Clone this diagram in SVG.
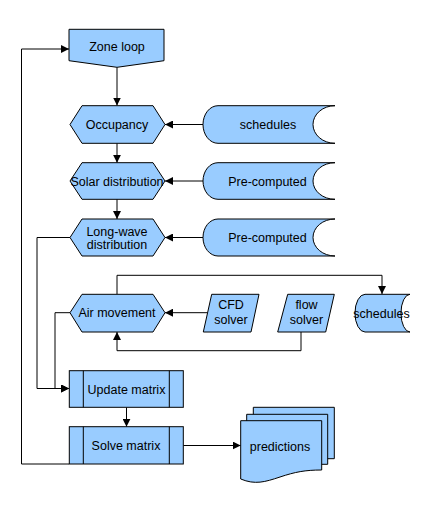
<svg xmlns="http://www.w3.org/2000/svg" width="446" height="509" viewBox="0 0 446 509">
<style>
.s{fill:#99ccff;stroke:#000;stroke-width:1}
.w{fill:#fff;stroke:#000;stroke-width:1}
.c{fill:none;stroke:#000;stroke-width:1}
text{font-family:"Liberation Sans",Arial,sans-serif;font-size:12.5px;fill:#000;text-anchor:middle}
</style>
<defs>
<marker id="a" markerUnits="userSpaceOnUse" markerWidth="9" markerHeight="8" refX="8" refY="4" orient="auto">
<path d="M0,0 L8,4 L0,8 z" fill="#000"/>
</marker>
</defs>
<rect width="446" height="509" fill="#fff"/>
<g id="connectors" class="c" marker-end="url(#a)">
<path d="M117,67.3 V105.5"/>
<path d="M117,143.3 V162.7"/>
<path d="M117,199.3 V219"/>
<path d="M203,124.5 H165"/>
<path d="M203,181 H165"/>
<path d="M203,237.5 H165"/>
<path d="M70,237.5 H37 V388.5 H69"/>
<path d="M70,312.7 H55 V388.5 H69"/>
<path d="M117,294.3 V275.3 H382 V294"/>
<path d="M207.6,312.7 H165"/>
<path d="M301,332 V350.7 H117 V332"/>
<path d="M126.5,407.3 V426.7"/>
<path d="M183.3,445.5 H240.7"/>
<path d="M69,464 H21.5 V49 H69"/>
</g>
<g id="zone-loop">
<path class="s" d="M69,29.3 H164 V60.7 L117,67.3 L69,60.7 z"/>
<text x="117" y="50.5">Zone loop</text>
</g>
<g id="occupancy">
<path class="s" d="M70,124.5 L82,105.7 H153 L165,124.5 L153,143.3 H82 z"/>
<text x="117" y="129">Occupancy</text>
</g>
<g id="solar">
<path class="s" d="M70,181 L82,162.7 H153 L165,181 L153,199.3 H82 z"/>
<text x="117" y="185.5">Solar distribution</text>
</g>
<g id="longwave">
<path class="s" d="M70,237.5 L82,219 H153 L165,237.5 L153,256 H82 z"/>
<text x="117" y="235.5">Long-wave</text>
<text x="117" y="249">distribution</text>
</g>
<g id="air-movement">
<path class="s" d="M70,312.7 L82,294.3 H153 L165,312.7 L153,332 H82 z"/>
<text x="117" y="317.2">Air movement</text>
</g>
<g id="schedules1">
<path class="s" d="M218,105.7 H335 A22,18.8 0 0 0 335,143.3 H218 A15,18.8 0 0 1 218,105.7 z"/>
<text x="268" y="129">schedules</text>
</g>
<g id="precomputed1">
<path class="s" d="M218,162.7 H335 A22,18.3 0 0 0 335,199.3 H218 A15,18.3 0 0 1 218,162.7 z"/>
<text x="267.5" y="185.5">Pre-computed</text>
</g>
<g id="precomputed2">
<path class="s" d="M218,219 H335 A22,18.5 0 0 0 335,256 H218 A15,18.5 0 0 1 218,219 z"/>
<text x="267.5" y="242">Pre-computed</text>
</g>
<g id="cfd-solver">
<path class="s" d="M211.7,294.3 H259 L251,332 H203.3 z"/>
<text x="231" y="309">CFD</text>
<text x="231" y="324">solver</text>
</g>
<g id="flow-solver">
<path class="s" d="M287.7,294.3 H334.3 L325.7,332 H277.7 z"/>
<text x="306.5" y="309">flow</text>
<text x="306.5" y="324">solver</text>
</g>
<g id="schedules2">
<path class="s" d="M365,294.3 H410 A9,18.8 0 0 0 410,332 H365 A10,18.8 0 0 1 365,294.3 z"/>
<text x="381.5" y="317.5">schedules</text>
</g>
<g id="update-matrix">
<rect class="s" x="69.3" y="370.7" width="114" height="36.6"/>
<path class="c" d="M83.3,370.7 V407.3 M169.3,370.7 V407.3"/>
<text x="126.5" y="393.5">Update matrix</text>
</g>
<g id="solve-matrix">
<rect class="s" x="69.3" y="426.7" width="114" height="37.3"/>
<path class="c" d="M83.3,426.7 V464 M169.3,426.7 V464"/>
<text x="126" y="450">Solve matrix</text>
</g>
<g id="predictions">
<path class="s" d="M253.3,407.3 H334.3 V458.7 H253.3 z"/>
<path class="s" d="M246.7,414.3 H327.7 V464.3 H246.7 z"/>
<path class="s" d="M240.7,420.7 H321.7 V470 C305,470 295,472 280,477 C265,482 255,485 240.7,479 z"/>
<text x="280" y="450.5">predictions</text>
</g>
</svg>
